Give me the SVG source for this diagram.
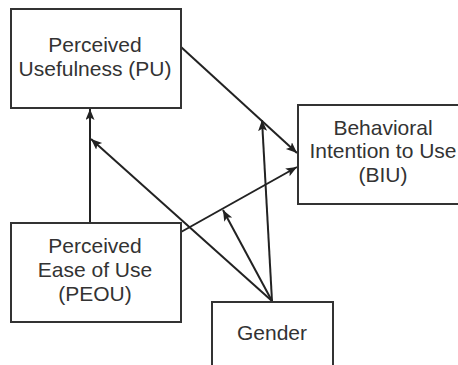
<svg xmlns="http://www.w3.org/2000/svg" width="458" height="365" viewBox="0 0 458 365">
<defs>
<marker id="arr" markerWidth="12" markerHeight="10" refX="11" refY="4.5" orient="auto" markerUnits="userSpaceOnUse">
<path d="M0,0 L11,4.5 L0,9 L2.5,4.5 z" fill="#222"/>
</marker>
<style>
.box{fill:#fff;stroke:#333;stroke-width:2}
.lbl{font-family:"Liberation Sans",Arial,sans-serif;font-size:21px;fill:#333;text-anchor:middle}
.edge{stroke:#222;stroke-width:2;fill:none;marker-end:url(#arr)}
</style>
</defs>
<rect width="458" height="365" fill="#fff"/>
<g id="connectors">
<line class="edge" x1="90" y1="223" x2="90" y2="109"/>
<line class="edge" x1="181" y1="47" x2="297" y2="153"/>
<line class="edge" x1="181" y1="232" x2="297" y2="167"/>
<line class="edge" x1="272" y1="301" x2="91" y2="139"/>
<line class="edge" x1="272" y1="301" x2="262" y2="120"/>
<line class="edge" x1="272" y1="301" x2="223" y2="210"/>
</g>
<g id="pu">
<rect class="box" x="11" y="9" width="170" height="99"/>
<text class="lbl" x="95" y="52">Perceived</text>
<text class="lbl" x="95" y="76">Usefulness (PU)</text>
</g>
<g id="biu">
<rect class="box" x="298" y="105" width="170" height="99"/>
<text class="lbl" x="383" y="135">Behavioral</text>
<text class="lbl" x="383" y="158">Intention to Use</text>
<text class="lbl" x="383" y="182">(BIU)</text>
</g>
<g id="peou">
<rect class="box" x="11" y="223" width="170" height="99"/>
<text class="lbl" x="95" y="253">Perceived</text>
<text class="lbl" x="95" y="277">Ease of Use</text>
<text class="lbl" x="95" y="301">(PEOU)</text>
</g>
<g id="gender">
<rect class="box" x="212" y="302" width="121" height="80"/>
<text class="lbl" x="272" y="340">Gender</text>
</g>
</svg>
